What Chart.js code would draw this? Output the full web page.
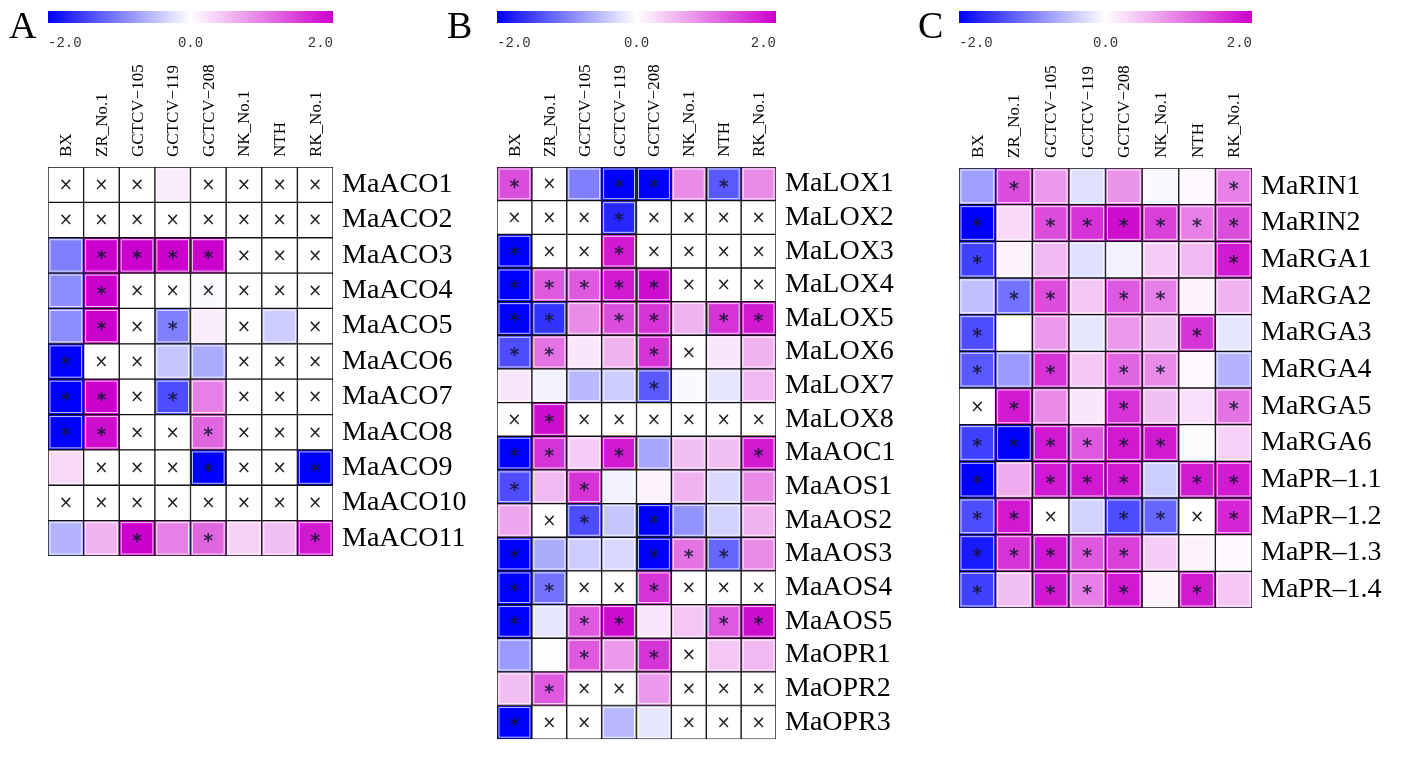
<!DOCTYPE html>
<html>
<head>
<meta charset="utf-8">
<script src="https://cdn.jsdelivr.net/npm/chart.js@4.4.1/dist/chart.umd.min.js"></script>
<style>
  body { margin: 0; background: #fff; }
  canvas { position: absolute; top: 0; }
</style>
</head>
<body>
<canvas id="chartA" style="left:0px"></canvas>
<canvas id="chartB" style="left:440px"></canvas>
<canvas id="chartC" style="left:910px"></canvas>
<script>
// column (cultivar) names, shared by the three heatmaps
const columns = ['BX', 'ZR_No.1', 'GCTCV\u2212105', 'GCTCV\u2212119', 'GCTCV\u2212208', 'NK_No.1', 'NTH', 'RK_No.1'];
const barTicks = ['-2.0', '0.0', '2.0'];

// A - ethylene genes
const genesA = ['MaACO1', 'MaACO2', 'MaACO3', 'MaACO4', 'MaACO5', 'MaACO6', 'MaACO7', 'MaACO8', 'MaACO9', 'MaACO10', 'MaACO11'];
const valuesA = [
    [0, 0, 0, 0.15, 0, 0, 0, 0],
    [0, 0, 0, 0, 0, 0, 0, 0],
    [-1.0, 2, 2, 2, 2, 0, 0, 0],
    [-0.9, 2, 0, 0, -0.05, 0, 0, 0],
    [-0.9, 2, 0, -1.0, 0.15, 0, -0.4, 0],
    [-2, 0, 0, -0.45, -0.65, 0, 0, 0],
    [-2, 2, 0, -1.4, 1.0, 0, 0, 0],
    [-2, 1.9, 0, 0, 1.2, 0, 0, 0],
    [0.3, 0, 0, 0, -2, 0, 0, -2],
    [0, 0, 0, 0, 0, 0, 0, 0],
    [-0.6, 0.6, 2, 1.0, 1.2, 0.35, 0.5, 1.8]
];
// x = not significant, * = significant, - = no mark
const marksA = ['xxx-xxxx', 'xxxxxxxx', '-****xxx', '-*xxxxxx', '-*x*-x-x', '*xx--xxx',
    '**x*-xxx', '**xx*xxx', '-xxx*xx*', 'xxxxxxxx', '--*-*--*'];

// B - jasmonate genes
const genesB = ['MaLOX1', 'MaLOX2', 'MaLOX3', 'MaLOX4', 'MaLOX5', 'MaLOX6', 'MaLOX7', 'MaLOX8', 'MaAOC1',
    'MaAOS1', 'MaAOS2', 'MaAOS3', 'MaAOS4', 'MaAOS5', 'MaOPR1', 'MaOPR2', 'MaOPR3'];
const valuesB = [
    [1.4, 0, -1.0, -2, -2, 0.9, -1.3, 0.9],
    [0, 0, 0, -1.7, 0, 0, 0, 0],
    [-2, 0, 0, 1.8, 0, 0, 0, 0],
    [-2, 1.3, 1.3, 1.8, 1.9, 0, 0, 0],
    [-2, -1.6, 0.9, 1.4, 1.6, 0.6, 1.6, 1.8],
    [-1.4, 1.1, 0.2, 0.6, 1.6, 0, 0.2, 0.6],
    [0.2, -0.1, -0.55, -0.4, -1.3, -0.05, -0.2, 0.55],
    [0, 1.9, 0, 0, 0, 0, 0, 0],
    [-2, 1.6, 0.4, 1.8, -0.7, 0.5, 0.5, 1.8],
    [-1.4, 0.55, 1.6, -0.1, 0.1, 0.6, -0.3, 0.9],
    [0.7, 0, -1.4, -0.45, -2, -0.85, -0.35, 0.6],
    [-2, -0.65, -0.4, -0.3, -2, 1.1, -1.2, 0.9],
    [-2, -1.1, 0, 0, 1.6, 0, 0, 0],
    [-2, -0.2, 1.3, 1.9, 0.2, 0.45, 1.3, 1.9],
    [-0.8, 0.02, 1.3, 0.8, 1.6, 0, 0.45, 0.55],
    [0.5, 1.3, 0, 0, 0.8, 0, 0, 0],
    [-2, 0, 0, -0.55, -0.2, 0, 0, 0]
];
const marksB = ['*x-**-*-', 'xxx*xxxx', '*xx*xxxx', '*****xxx', '**-**-**', '**--*x--',
    '----*---', 'x*xxxxxx', '**-*---*', '*-*-----', '-x*-*---', '*---***-',
    '**xx*xxx', '*-**--**', '--*-*x--', '-*xx-xxx', '*xx--xxx'];

// C - ripening / GA genes
const genesC = ['MaRIN1', 'MaRIN2', 'MaRGA1', 'MaRGA2', 'MaRGA3', 'MaRGA4', 'MaRGA5', 'MaRGA6',
    'MaPR\u20131.1', 'MaPR\u20131.2', 'MaPR\u20131.3', 'MaPR\u20131.4'];
const valuesC = [
    [-0.75, 1.4, 0.8, -0.25, 0.85, -0.05, 0.05, 1.0],
    [-2, 0.3, 1.4, 1.6, 1.9, 1.5, 1.0, 1.4],
    [-1.5, 0.1, 0.55, -0.25, -0.1, 0.4, 0.55, 1.8],
    [-0.5, -1.1, 1.4, 0.45, 1.3, 1.0, 0.1, 0.6],
    [-1.4, 0, 0.8, -0.2, 0.8, 0.5, 1.6, -0.2],
    [-1.3, -0.8, 1.6, 0.45, 1.2, 0.9, 0.05, -0.6],
    [0, 1.8, 0.9, 0.2, 1.6, 0.5, 0.25, 1.1],
    [-1.5, -2, 1.8, 1.3, 1.8, 1.8, 0.03, 0.35],
    [-2, 0.65, 1.8, 1.8, 1.8, -0.4, 1.8, 1.8],
    [-1.4, 1.8, 0, -0.35, -1.4, -1.2, 0, 1.7],
    [-1.8, 1.6, 1.8, 1.3, 1.5, 0.4, 0.1, 0.05],
    [-1.5, 0.5, 1.8, 1.0, 1.8, 0.1, 1.8, 0.45]
];
const marksC = ['-*-----*', '*-******', '*------*', '-**-**--', '*-----*-', '*-*-**--',
    'x*--*--*', '******--', '*-***-**', '**x-**x*', '*****---', '*-***-*-'];

// blue (-2) -> white (0) -> magenta (+2)
function colorFor(v) {
    const t = Math.min(1, Math.abs(v) / 2);
    if (v < 0) {
        const c = Math.round(255 * (1 - t));
        return `rgb(${c},${c},255)`;
    }
    const r = Math.round(255 - 51 * t), g = Math.round(255 * (1 - t)), b = Math.round(255 - 51 * t);
    return `rgb(${r},${g},${b})`;
}

const decorPlugin = {
    id: 'decor',
    afterDatasetsDraw(chart, args, opts) {
        const { ctx, chartArea, scales } = chart;
        const xs = scales.x, ys = scales.y;
        const rowH = ys.height / opts.marks.length;
        ctx.save();
        // thin light line inside every cell
        ctx.strokeStyle = 'rgba(255,255,255,0.75)';
        ctx.lineWidth = 1;
        opts.marks.forEach((row, r) => {
            const yc = ys.getPixelForValue(r);
            columns.forEach((col, c) => {
                const x0 = xs.getPixelForValue(c), x1 = xs.getPixelForValue(c + 1);
                ctx.strokeRect(x0 + 2, yc - rowH / 2 + 2, x1 - x0 - 4, rowH - 4);
            });
        });
        // significance marks
        ctx.textAlign = 'center';
        ctx.textBaseline = 'middle';
        opts.marks.forEach((row, r) => {
            const y = ys.getPixelForValue(r);
            [...row].forEach((m, c) => {
                const x = xs.getPixelForValue(c + 0.5);
                if (m === 'x') {
                    ctx.fillStyle = '#222';
                    ctx.font = '17px "DejaVu Sans"';
                    ctx.fillText('\u00d7', x, y + 1);
                } else if (m === '*') {
                    ctx.fillStyle = 'rgba(20,20,50,0.85)';
                    ctx.font = 'bold 19px "DejaVu Sans"';
                    ctx.fillText('*', x, y + 4);
                }
            });
        });
        // rotated column names
        ctx.fillStyle = '#000';
        ctx.font = '17px "Liberation Serif"';
        ctx.textAlign = 'left';
        ctx.textBaseline = 'middle';
        columns.forEach((col, c) => {
            ctx.save();
            ctx.translate(xs.getPixelForValue(c + 0.5) + 1, chartArea.top - 10);
            ctx.rotate(-Math.PI / 2);
            ctx.fillText(col, 0, 0);
            ctx.restore();
        });
        // colour bar above the columns
        const grad = ctx.createLinearGradient(chartArea.left, 0, chartArea.right, 0);
        grad.addColorStop(0, colorFor(-2));
        grad.addColorStop(0.5, colorFor(0));
        grad.addColorStop(1, colorFor(2));
        ctx.fillStyle = grad;
        ctx.fillRect(chartArea.left, 11, chartArea.right - chartArea.left, 12);
        ctx.fillStyle = '#333';
        ctx.font = '14px "Liberation Mono"';
        ctx.textBaseline = 'alphabetic';
        ctx.textAlign = 'left';
        ctx.fillText(barTicks[0], chartArea.left, 47);
        ctx.textAlign = 'center';
        ctx.fillText(barTicks[1], (chartArea.left + chartArea.right) / 2, 47);
        ctx.textAlign = 'right';
        ctx.fillText(barTicks[2], chartArea.right, 47);
        // panel letter
        ctx.fillStyle = '#000';
        ctx.textAlign = 'left';
        ctx.font = '38px "Liberation Serif"';
        ctx.fillText(opts.letter, opts.letterX, 38);
        ctx.restore();
    }
};

function makeHeatmap(id, genes, values, marks, letter, box) {
    const canvas = document.getElementById(id);
    canvas.width = box.w;
    canvas.height = 765;
    canvas.style.width = box.w + 'px';
    canvas.style.height = '765px';
    const datasets = columns.map((col, c) => ({
        label: col,
        data: genes.map(() => [c, c + 1]),
        backgroundColor: genes.map((g, r) => colorFor(values[r][c])),
        borderColor: '#111',
        borderWidth: 1,
        borderSkipped: false,
        grouped: false,
        barPercentage: 1,
        categoryPercentage: 1
    }));
    new Chart(canvas, {
        type: 'bar',
        data: { labels: genes, datasets },
        options: {
            indexAxis: 'y',
            responsive: false,
            animation: false,
            layout: { padding: { left: box.left, top: 0, right: 0, bottom: 765 - box.bottom } },
            plugins: {
                legend: { display: false },
                tooltip: { enabled: false },
                decor: { marks, letter, letterX: box.letterX }
            },
            scales: {
                x: {
                    type: 'linear',
                    position: 'top',
                    min: 0,
                    max: columns.length,
                    grid: { display: false, drawTicks: false },
                    border: { display: false },
                    afterFit: (s) => { s.height = box.top; },
                    ticks: { display: false }
                },
                y: {
                    position: 'right',
                    grid: { display: false, drawTicks: false },
                    border: { display: false },
                    afterFit: (s) => { s.width = box.w - box.right; },
                    ticks: {
                        autoSkip: false,
                        padding: 9,
                        color: '#000',
                        font: { family: 'Liberation Serif', size: 28 }
                    }
                }
            }
        },
        plugins: [decorPlugin]
    });
}

makeHeatmap('chartA', genesA, valuesA, marksA, 'A', { w: 480, left: 48, right: 333, top: 167, bottom: 556, letterX: 9 });
makeHeatmap('chartB', genesB, valuesB, marksB, 'B', { w: 480, left: 57, right: 336, top: 167, bottom: 755, letterX: 7 });
makeHeatmap('chartC', genesC, valuesC, marksC, 'C', { w: 494, left: 49, right: 342, top: 168, bottom: 608, letterX: 8 });
</script>
</body>
</html>
